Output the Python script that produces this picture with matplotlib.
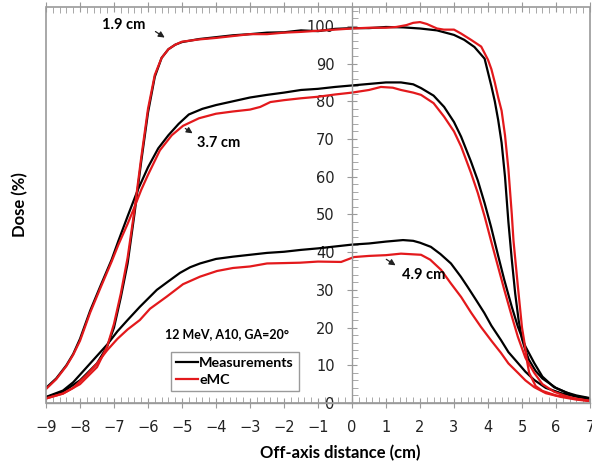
import matplotlib
matplotlib.use("Agg")
import matplotlib.pyplot as plt
from matplotlib.patches import Rectangle
from matplotlib.ticker import MultipleLocator

# ---------------- data ----------------
# 1.9 cm depth
b19_x = [-9, -8.5, -8, -7.5, -7.2, -7.0, -6.8, -6.6, -6.4, -6.2, -6.0, -5.8, -5.6, -5.4, -5.2, -5.0,
         -4.5, -4, -3.5, -3, -2.5, -2, -1.5, -1, -0.5, 0, 0.5, 1, 1.5, 2, 2.5, 3, 3.3, 3.6, 3.9,
         4.1, 4.2, 4.3, 4.4, 4.5, 4.6, 4.7, 4.8, 4.9, 5.0, 5.1, 5.2, 5.4, 5.6, 6.0, 6.15, 6.5, 7.0]
b19_y = [1.5, 3.0, 6.0, 10.5, 15, 20, 28, 37, 50, 64, 77, 86.5, 91.5, 93.8, 95, 95.7,
         96.5, 97, 97.5, 97.8, 98.2, 98.3, 98.8, 98.6, 99.2, 99.4, 99.4, 99.7, 99.6, 99.3, 98.8, 97.6, 96.3, 94.4, 91.3,
         84, 80, 75, 69, 60, 48, 38, 29, 22, 17, 14, 11.5, 8.5, 6.5, 4.0, 3.4, 2.0, 0.9]
r19_x = [-9, -8.5, -8, -7.5, -7.2, -7.0, -6.8, -6.6, -6.4, -6.2, -6.0, -5.8, -5.6, -5.4, -5.2, -5.0,
         -4.5, -4, -3.5, -3, -2.5, -2, -1.5, -1, -0.5, 0, 0.5, 1, 1.3, 1.6, 1.8, 2.0, 2.2, 2.5, 2.7,
         3.0, 3.2, 3.5, 3.8, 4.0, 4.1, 4.2, 4.3, 4.4, 4.5, 4.6, 4.7, 4.75, 4.88, 5.0, 5.06, 5.15,
         5.21, 5.4, 5.6, 6.0, 6.35, 7.0]
r19_y = [1.2, 2.5, 5, 9.5, 15, 21, 29, 38.5, 51, 65, 78, 87, 91.5, 93.8, 95, 95.8,
         96.4, 96.8, 97.3, 97.8, 97.8, 98.2, 98.4, 98.7, 99.0, 99.3, 99.5, 99.5, 99.7, 100.2, 100.8, 101.0, 100.5, 99.3, 99.0,
         99.0, 98.0, 96.3, 94.5, 91, 88.5, 85, 81, 77.5, 71, 62, 50, 43, 30.8, 20, 16.7, 11,
         8, 4.5, 3.2, 2.0, 1.5, 0.5]

# 3.7 cm depth
b37_x = [-9, -8.7, -8.4, -8.2, -8.0, -7.7, -7.4, -7.07, -6.87, -6.6, -6.3, -6.0, -5.7, -5.4, -5.1, -4.8,
         -4.4, -4.0, -3.5, -3.0, -2.5, -2.0, -1.5, -1.0, -0.5, 0, 0.5, 1.0, 1.44, 1.8, 2.03, 2.4, 2.71,
         3.0, 3.21, 3.5, 3.7, 3.9, 4.09, 4.3, 4.48, 4.7, 4.88, 5.1, 5.36, 5.6, 5.94, 6.3, 6.6, 7.0]
b37_y = [4.0, 6.5, 10, 13, 17, 24.5, 31, 38, 43, 49.5, 56.5, 62.5, 67.5, 71, 74, 76.5,
         78, 79, 80, 81, 81.7, 82.3, 83, 83.3, 83.8, 84.2, 84.6, 85, 85, 84.5, 83.5, 81.5, 78.5,
         74.5, 70.6, 64, 59, 53, 46.7, 39, 32.6, 25.5, 20.2, 15, 10.6, 7, 4.2, 2.8, 2.0, 1.3]
r37_x = [-9, -8.7, -8.4, -8.2, -8.0, -7.7, -7.4, -7.07, -6.87, -6.6, -6.44, -6.2, -6.0, -5.65, -5.3, -4.97,
         -4.5, -4.0, -3.5, -3.0, -2.7, -2.4, -2.0, -1.5, -1.0, -0.5, 0, 0.5, 0.85, 1.2, 1.44, 1.8, 2.03,
         2.4, 2.71, 3.0, 3.21, 3.5, 3.7, 3.9, 4.09, 4.3, 4.48, 4.7, 4.88, 5.1, 5.36, 5.6, 5.94, 6.3, 6.6, 7.0]
r37_y = [3.7, 6.3, 9.8, 12.8, 16.5, 24, 30.5, 37.5, 42, 47.5, 51, 56.5, 60.5, 67, 71, 73.5,
         75.5, 76.7, 77.3, 77.8, 78.5, 79.8, 80.3, 80.8, 81.2, 81.8, 82.3, 83.0, 83.8, 83.6, 83, 82.3, 81.7,
         79.5, 75.9, 72, 68, 61, 55.7, 49.5, 43, 36, 30, 23, 17.5, 12, 8, 5, 3, 1.8, 1.1, 0.6]

# 4.9 cm depth
b49_x = [-9, -8.5, -8.2, -7.8, -7.5, -7.2, -6.9, -6.6, -6.24, -5.74, -5.44, -5.06, -4.76, -4.47, -4.0,
         -3.5, -3.0, -2.5, -2.0, -1.5, -1.0, -0.5, 0, 0.5, 1.0, 1.5, 1.8, 2.0, 2.32, 2.6, 2.91, 3.2,
         3.4, 3.65, 3.89, 4.1, 4.38, 4.6, 4.88, 5.1, 5.36, 5.7, 6.15, 6.6, 7.0]
b49_y = [1.6, 3.3, 5.5, 9.5, 12.5, 15.5, 19, 22, 25.5, 30, 32, 34.5, 36, 37, 38.2,
         38.8, 39.3, 39.8, 40.1, 40.6, 41.0, 41.5, 42, 42.3, 42.8, 43.2, 43.0, 42.5, 41.4, 39.5, 37, 33.5,
         30.8, 27.3, 23.9, 20.5, 16.7, 13.5, 10.6, 8.3, 6.1, 4, 2.6, 1.7, 1.2]
r49_x = [-9, -8.5, -8.2, -7.8, -7.5, -7.2, -6.9, -6.6, -6.24, -5.94, -5.45, -4.97, -4.47, -3.97, -3.5,
         -3.0, -2.5, -2.0, -1.53, -1.0, -0.32, 0.06, 0.5, 1.0, 1.44, 2.03, 2.3, 2.62, 2.9, 3.21, 3.5,
         3.79, 4.1, 4.38, 4.6, 4.88, 5.1, 5.36, 5.7, 6.15, 6.6, 7.0]
r49_y = [1.2, 2.5, 4, 7.5, 10.5, 14, 17, 19.5, 22, 25, 28.2, 31.5, 33.5, 35, 35.8,
         36.2, 37, 37.1, 37.2, 37.5, 37.4, 38.7, 39, 39.2, 39.6, 39.3, 38, 35.3, 31.8, 28.1, 24,
         20.2, 16.5, 13.3, 10.5, 8, 6, 4.2, 2.6, 1.6, 0.9, 0.5]

x_ticks = [-9, -8, -7, -6, -5, -4, -3, -2, -1, 0, 1, 2, 3, 4, 5, 6, 7]
y_ticks = [0, 10, 20, 30, 40, 50, 60, 70, 80, 90, 100]
series_labels = ["Measurements", "eMC"]

# ---------------- plot ----------------
BLACK = "#000000"
RED = "#e3191c"
GRAY = "#9a9a9a"
BOLD = dict(family=["Lato", "DejaVu Sans"], fontweight="bold")

fig = plt.figure(figsize=(5.92, 4.66), dpi=100)
ax = fig.add_axes([46 / 592, 1 - 403 / 466, 544 / 592, 396 / 466])
ax.set_xlim(-9, 7)
ax.set_ylim(0, 105)

lw = 1.6
lb, = ax.plot(b19_x, b19_y, color=BLACK, lw=lw)
ax.plot(b37_x, b37_y, color=BLACK, lw=lw)
ax.plot(b49_x, b49_y, color=BLACK, lw=lw)
lr, = ax.plot(r19_x, r19_y, color=RED, lw=lw)
ax.plot(r37_x, r37_y, color=RED, lw=lw)
ax.plot(r49_x, r49_y, color=RED, lw=lw)

# spines: y axis at x=0, x axis at bottom
for s in ["top", "right"]:
    ax.spines[s].set_visible(False)
ax.spines["left"].set_position(("data", 0))
ax.spines["left"].set_color(GRAY)
ax.spines["bottom"].set_color(GRAY)
ax.spines["left"].set_linewidth(1.0)
ax.spines["bottom"].set_linewidth(1.0)
frame = Rectangle((0, 0), 1, 1, transform=ax.transAxes, fill=False,
                  edgecolor=GRAY, lw=1.2, clip_on=False, zorder=5)
ax.add_patch(frame)

ax.set_xticks(x_ticks)
ax.set_yticks(y_ticks)
ax.xaxis.set_minor_locator(MultipleLocator(0.2))
ax.yaxis.set_minor_locator(MultipleLocator(2))
ax.tick_params(axis="x", which="major", direction="inout", length=7, color=GRAY,
               labelsize=10.5, labelcolor="#222222", pad=9, top=True)
ax.tick_params(axis="x", which="minor", direction="in", length=4, color=GRAY, top=True)
ax.tick_params(axis="y", which="major", direction="inout", length=7, color=GRAY,
               labelsize=10.5, labelcolor="#222222", pad=9)
ax.tick_params(axis="y", which="minor", direction="in", length=4, color=GRAY)
for lab in ax.get_xticklabels() + ax.get_yticklabels():
    lab.set_family("DejaVu Sans")

fig.text(20 / 592, 1 - 205 / 466, "Dose (%)", rotation=90, ha="center", va="center",
         fontsize=12, **BOLD)
fig.text(340 / 592, 1 - 453 / 466, "Off-axis distance (cm)", ha="center", va="center",
         fontsize=12, **BOLD)

# annotations
ann = dict(arrowstyle="-|>", color="#222222", lw=0.9, mutation_scale=9)
ax.text(-6.72, 100.3, "1.9 cm", ha="center", va="center", fontsize=10.5, **BOLD)
ax.annotate("", xy=(-5.44, 96.5), xytext=(-5.85, 98.9), arrowprops=ann)
ax.text(-3.91, 69.0, "3.7 cm", ha="center", va="center", fontsize=10.5, **BOLD)
ax.annotate("", xy=(-4.62, 71.1), xytext=(-4.97, 73.2), arrowprops=ann)
ax.text(2.12, 34.0, "4.9 cm", ha="center", va="center", fontsize=10.5, **BOLD)
ax.annotate("", xy=(1.35, 36.1), xytext=(0.94, 38.5), arrowprops=ann)
ax.text(-3.68, 18.3, "12 MeV, A10, GA=20°", ha="center", va="center", fontsize=9, **BOLD)

leg = ax.legend([lb, lr], series_labels, loc="lower left", bbox_to_anchor=(0.217, 0.0126),
                frameon=True, fancybox=False, edgecolor=GRAY, framealpha=1,
                handlelength=1.5, handletextpad=0.1, borderpad=0.35, labelspacing=0.35,
                prop=dict(family=["Lato", "DejaVu Sans"], weight="bold", size=10.3))
leg.get_frame().set_linewidth(1.0)

fig.savefig("out.png", dpi=100)
